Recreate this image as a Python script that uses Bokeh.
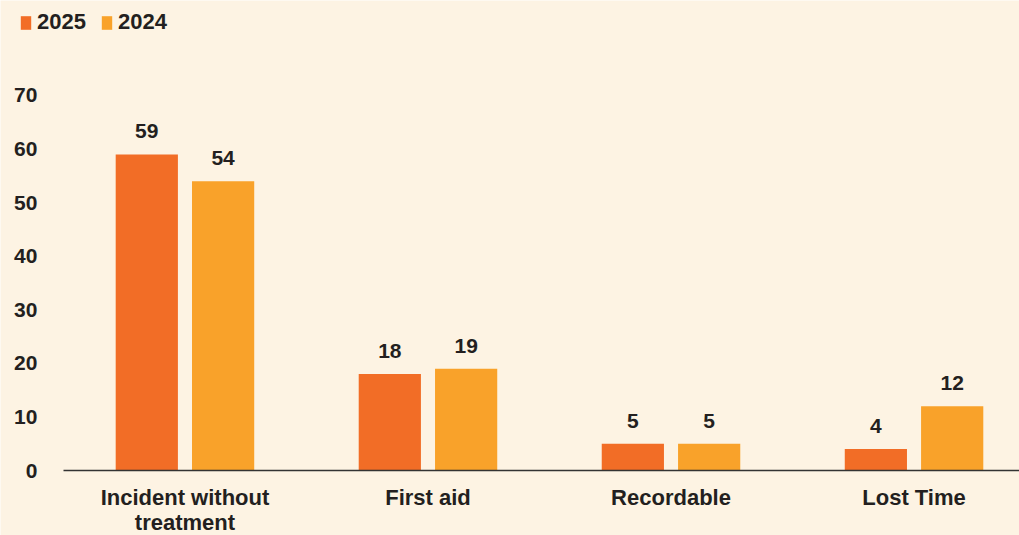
from bokeh.plotting import figure
from bokeh.models import ColumnDataSource, FixedTicker, Range1d, Legend, LegendItem
from bokeh.embed import file_html
from bokeh.resources import INLINE
from bokeh.core.properties import value

categories = ["Incident without\ntreatment", "First aid", "Recordable", "Lost Time"]
v2025 = [59, 18, 5, 4]
v2024 = [54, 19, 5, 12]
series = ["2025", "2024"]
yticks = [0, 10, 20, 30, 40, 50, 60, 70]

BG = "#fdf3e3"
C25 = "#f26d26"
C24 = "#f9a22a"
TXT = "#231f20"
FONT = "Liberation Sans"

xs = list(range(len(categories)))
off = 0.157
bw = 0.256

src = ColumnDataSource(dict(
    x25=[x - off for x in xs], x24=[x + off for x in xs],
    v25=v2025, v24=v2024,
    t25=[str(v) for v in v2025], t24=[str(v) for v in v2024],
))

p = figure(width=1019, height=535, output_backend="svg", toolbar_location=None,
           x_range=Range1d(-0.759, 3.434), y_range=Range1d(-12.133, 87.733),
           min_border_left=0, min_border_right=0, min_border_top=0, min_border_bottom=0,
           background_fill_color=BG, border_fill_color=BG, outline_line_color=None)

r1 = p.vbar(x="x25", top="v25", width=bw, source=src, fill_color=C25, line_color=None)
r2 = p.vbar(x="x24", top="v24", width=bw, source=src, fill_color=C24, line_color=None)

for xcol, ycol, tcol in (("x25", "v25", "t25"), ("x24", "v24", "t24")):
    p.text(x=xcol, y=ycol, text=tcol, source=src, text_align="center",
           text_baseline="alphabetic", y_offset=-23, text_color=TXT,
           text_font=value(FONT), text_font_style="bold", text_font_size="21px")

p.xgrid.visible = False
p.ygrid.visible = False

xax = p.xaxis[0]
xax.fixed_location = 0
xax.bounds = (-0.5, 3.434)
xax.ticker = FixedTicker(ticks=xs)
xax.major_label_overrides = {i: c for i, c in zip(xs, categories)}
xax.major_tick_line_color = None
xax.minor_tick_line_color = None
xax.axis_line_color = "#333333"
xax.axis_line_width = 1.5
xax.major_label_standoff = 8
xax.major_label_text_font = FONT
xax.major_label_text_font_style = "bold"
xax.major_label_text_font_size = "22px"
xax.major_label_text_line_height = 1.0
xax.major_label_text_color = TXT

yax = p.yaxis[0]
yax.fixed_location = -0.5
yax.ticker = FixedTicker(ticks=yticks)
yax.axis_line_color = None
yax.major_tick_line_color = None
yax.minor_tick_line_color = None
yax.major_label_standoff = 20
yax.major_label_text_font = FONT
yax.major_label_text_font_style = "bold"
yax.major_label_text_font_size = "21px"
yax.major_label_text_color = TXT

legend = Legend(items=[LegendItem(label=series[0], renderers=[r1]),
                       LegendItem(label=series[1], renderers=[r2])],
                orientation="horizontal", location=(19, 500),
                glyph_width=13, glyph_height=17, label_standoff=5, spacing=14,
                padding=0, margin=0, border_line_color=None, background_fill_alpha=0,
                label_text_font=FONT, label_text_font_style="bold",
                label_text_font_size="22px", label_text_color=TXT)
p.add_layout(legend)

open("out.html", "w").write(file_html(p, INLINE))
